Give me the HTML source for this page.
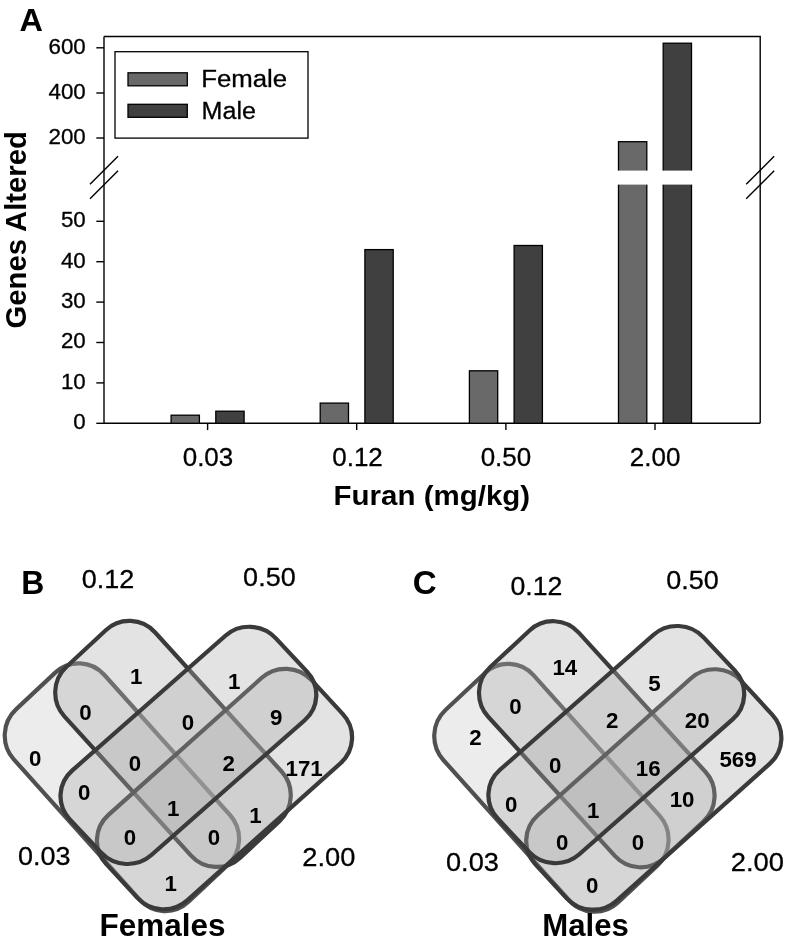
<!DOCTYPE html>
<html><head><meta charset="utf-8"><title>Figure</title>
<style>html,body{margin:0;padding:0;background:#fff}svg{display:block}text{font-family:"Liberation Sans",sans-serif;fill:#000}text.r{stroke:#000;stroke-width:0.3px}</style>
</head><body>
<svg width="786" height="948" viewBox="0 0 786 948">
<rect width="786" height="948" fill="#fff"/>
<g stroke="#000" stroke-width="1.4" fill="none">
<path d="M104.0 36.5 H760.2 V423.3"/>
<path d="M104.0 36.5 V423.3 H760.2"/>
<path d="M96.3 47.8 H104.0"/>
<path d="M96.3 93.0 H104.0"/>
<path d="M96.3 138.0 H104.0"/>
<path d="M96.3 221.3 H104.0"/>
<path d="M96.3 261.7 H104.0"/>
<path d="M96.3 302.1 H104.0"/>
<path d="M96.3 342.5 H104.0"/>
<path d="M96.3 382.9 H104.0"/>
<path d="M96.3 423.3 H104.0"/>
<path d="M207.6 423.3 V430.1"/>
<path d="M356.7 423.3 V430.1"/>
<path d="M505.9 423.3 V430.1"/>
<path d="M655.0 423.3 V430.1"/>
<path d="M90.0 184.2 L118.0 156.2"/>
<path d="M90.0 198.8 L118.0 170.8"/>
<path d="M746.2 184.2 L774.2 156.2"/>
<path d="M746.2 198.8 L774.2 170.8"/>
</g>
<g stroke="#000" stroke-width="1.3">
<rect x="171.1" y="415.2" width="28.3" height="8.1" fill="#696969"/>
<rect x="215.8" y="411.2" width="28.3" height="12.1" fill="#404040"/>
<rect x="320.2" y="403.1" width="28.3" height="20.2" fill="#696969"/>
<rect x="364.9" y="249.6" width="28.3" height="173.7" fill="#404040"/>
<rect x="469.4" y="370.8" width="28.3" height="52.5" fill="#696969"/>
<rect x="514.1" y="245.5" width="28.3" height="177.8" fill="#404040"/>
<rect x="618.5" y="141.7" width="28.3" height="281.6" fill="#696969"/>
<rect x="663.2" y="43.2" width="28.3" height="380.1" fill="#404040"/>
</g>
<rect x="616.5" y="170.6" width="77.0" height="14" fill="#fff"/>
<rect x="115" y="51.7" width="193" height="86.4" fill="#fff" stroke="#000" stroke-width="1.3"/>
<rect x="128" y="72.8" width="59.3" height="13" fill="#696969" stroke="#000" stroke-width="1.3"/>
<rect x="128" y="104.3" width="59.3" height="13" fill="#404040" stroke="#000" stroke-width="1.3"/>
<text transform="translate(201.14 87.40) scale(1.0469 1)" font-size="24.64px" class="r">Female</text>
<text transform="translate(201.59 118.70) scale(1.0187 1)" font-size="24.64px" class="r">Male</text>
<text transform="translate(48.48 53.60) scale(1.0300 1)" font-size="21.70px" class="r">600</text>
<text transform="translate(48.48 98.80) scale(1.0300 1)" font-size="21.70px" class="r">400</text>
<text transform="translate(48.48 143.80) scale(1.0300 1)" font-size="21.70px" class="r">200</text>
<text transform="translate(60.88 227.10) scale(1.0300 1)" font-size="21.70px" class="r">50</text>
<text transform="translate(60.88 267.50) scale(1.0300 1)" font-size="21.70px" class="r">40</text>
<text transform="translate(60.88 307.90) scale(1.0300 1)" font-size="21.70px" class="r">30</text>
<text transform="translate(60.88 348.30) scale(1.0300 1)" font-size="21.70px" class="r">20</text>
<text transform="translate(60.88 388.70) scale(1.0300 1)" font-size="21.70px" class="r">10</text>
<text transform="translate(73.29 429.10) scale(1.0300 1)" font-size="21.70px" class="r">0</text>
<text transform="translate(182.67 466.20) scale(1.0200 1)" font-size="25.50px" class="r">0.03</text>
<text transform="translate(332.19 466.20) scale(1.0200 1)" font-size="25.50px" class="r">0.12</text>
<text transform="translate(480.66 466.20) scale(1.0200 1)" font-size="25.50px" class="r">0.50</text>
<text transform="translate(629.78 466.20) scale(1.0200 1)" font-size="25.50px" class="r">2.00</text>
<text transform="translate(333.58 505.40) scale(1.0440 1)" font-size="28.26px" font-weight="bold">Furan (mg/kg)</text>
<text transform="translate(25.5 328.57) rotate(-90) scale(0.9624 1)" font-size="30.43px" font-weight="bold">Genes Altered</text>
<text transform="translate(19.59 30.50) scale(1.0251 1)" font-size="31.59px" font-weight="bold">A</text>
<g>
<rect x="-129.20" y="-61.88" width="258.40" height="123.75" rx="35.0" ry="35.0" transform="translate(121.90 787.20) rotate(48.10) skewX(1.20)" fill="#acacac" fill-opacity="0.230" stroke="#505050" stroke-width="4.20"/>
<rect x="-129.10" y="-61.80" width="258.20" height="123.60" rx="35.0" ry="35.0" transform="translate(173.00 743.95) rotate(47.70) skewX(0.60)" fill="#acacac" fill-opacity="0.340" stroke="#3a3a3a" stroke-width="4.20"/>
<rect x="-137.80" y="-58.10" width="275.60" height="116.20" rx="35.0" ry="35.0" transform="translate(224.50 789.05) rotate(-41.80) skewX(0.90)" fill="#acacac" fill-opacity="0.340" stroke="#3a3a3a" stroke-width="4.20"/>
<rect x="-137.10" y="-57.90" width="274.20" height="115.80" rx="35.0" ry="35.0" transform="translate(188.40 745.40) rotate(-41.35) skewX(1.85)" fill="#acacac" fill-opacity="0.340" stroke="#3a3a3a" stroke-width="4.20"/>
<text transform="translate(29.11 766.30) scale(1.0000 1)" font-size="22.30px" font-weight="bold">0</text>
<text transform="translate(130.02 684.20) scale(1.0000 1)" font-size="22.30px" font-weight="bold">1</text>
<text transform="translate(79.21 719.60) scale(1.0000 1)" font-size="22.30px" font-weight="bold">0</text>
<text transform="translate(227.97 689.20) scale(1.0000 1)" font-size="22.30px" font-weight="bold">1</text>
<text transform="translate(181.86 729.60) scale(1.0000 1)" font-size="22.30px" font-weight="bold">0</text>
<text transform="translate(270.11 724.70) scale(1.0000 1)" font-size="22.30px" font-weight="bold">9</text>
<text transform="translate(128.66 771.30) scale(1.0000 1)" font-size="22.30px" font-weight="bold">0</text>
<text transform="translate(222.62 770.80) scale(1.0000 1)" font-size="22.30px" font-weight="bold">2</text>
<text transform="translate(285.49 775.80) scale(1.0000 1)" font-size="22.30px" font-weight="bold">171</text>
<text transform="translate(77.96 800.30) scale(1.0000 1)" font-size="22.30px" font-weight="bold">0</text>
<text transform="translate(167.12 815.80) scale(1.0000 1)" font-size="22.30px" font-weight="bold">1</text>
<text transform="translate(249.17 822.80) scale(1.0000 1)" font-size="22.30px" font-weight="bold">1</text>
<text transform="translate(123.71 845.00) scale(1.0000 1)" font-size="22.30px" font-weight="bold">0</text>
<text transform="translate(207.66 845.00) scale(1.0000 1)" font-size="22.30px" font-weight="bold">0</text>
<text transform="translate(164.62 891.30) scale(1.0000 1)" font-size="22.30px" font-weight="bold">1</text>
<text transform="translate(81.82 587.90) scale(1.0782 1)" font-size="25.00px" class="r">0.12</text>
<text transform="translate(243.12 586.30) scale(1.0281 1)" font-size="26.29px" class="r">0.50</text>
<text transform="translate(18.02 865.40) scale(1.0324 1)" font-size="26.14px" class="r">0.03</text>
<text transform="translate(302.34 865.80) scale(1.0377 1)" font-size="26.29px" class="r">2.00</text>
</g>
<g>
<rect x="-129.20" y="-61.88" width="258.40" height="123.75" rx="35.0" ry="35.0" transform="translate(551.40 787.80) rotate(48.10) skewX(1.20)" fill="#acacac" fill-opacity="0.230" stroke="#505050" stroke-width="4.20"/>
<rect x="-129.10" y="-61.80" width="258.20" height="123.60" rx="35.0" ry="35.0" transform="translate(596.80 744.25) rotate(47.70) skewX(0.60)" fill="#acacac" fill-opacity="0.340" stroke="#3a3a3a" stroke-width="4.20"/>
<rect x="-137.80" y="-58.10" width="275.60" height="116.20" rx="35.0" ry="35.0" transform="translate(653.80 789.45) rotate(-41.80) skewX(0.90)" fill="#acacac" fill-opacity="0.340" stroke="#3a3a3a" stroke-width="4.20"/>
<rect x="-137.10" y="-57.90" width="274.20" height="115.80" rx="35.0" ry="35.0" transform="translate(616.30 744.60) rotate(-41.35) skewX(1.85)" fill="#acacac" fill-opacity="0.340" stroke="#3a3a3a" stroke-width="4.20"/>
<text transform="translate(469.27 745.00) scale(1.0000 1)" font-size="22.30px" font-weight="bold">2</text>
<text transform="translate(552.45 675.00) scale(1.0000 1)" font-size="22.30px" font-weight="bold">14</text>
<text transform="translate(509.36 713.50) scale(1.0000 1)" font-size="22.30px" font-weight="bold">0</text>
<text transform="translate(648.16 690.80) scale(1.0000 1)" font-size="22.30px" font-weight="bold">5</text>
<text transform="translate(605.97 728.00) scale(1.0000 1)" font-size="22.30px" font-weight="bold">2</text>
<text transform="translate(684.83 728.30) scale(1.0000 1)" font-size="22.30px" font-weight="bold">20</text>
<text transform="translate(548.91 772.50) scale(1.0000 1)" font-size="22.30px" font-weight="bold">0</text>
<text transform="translate(635.74 775.50) scale(1.0000 1)" font-size="22.30px" font-weight="bold">16</text>
<text transform="translate(719.44 766.50) scale(1.0000 1)" font-size="22.30px" font-weight="bold">569</text>
<text transform="translate(505.06 811.70) scale(1.0000 1)" font-size="22.30px" font-weight="bold">0</text>
<text transform="translate(586.97 817.50) scale(1.0000 1)" font-size="22.30px" font-weight="bold">1</text>
<text transform="translate(669.64 806.70) scale(1.0000 1)" font-size="22.30px" font-weight="bold">10</text>
<text transform="translate(555.91 850.00) scale(1.0000 1)" font-size="22.30px" font-weight="bold">0</text>
<text transform="translate(631.86 850.40) scale(1.0000 1)" font-size="22.30px" font-weight="bold">0</text>
<text transform="translate(585.91 892.50) scale(1.0000 1)" font-size="22.30px" font-weight="bold">0</text>
<text transform="translate(510.53 594.50) scale(1.0494 1)" font-size="25.43px" class="r">0.12</text>
<text transform="translate(666.22 589.00) scale(1.0261 1)" font-size="26.29px" class="r">0.50</text>
<text transform="translate(446.01 870.80) scale(1.0443 1)" font-size="26.00px" class="r">0.03</text>
<text transform="translate(730.73 870.90) scale(1.0475 1)" font-size="26.14px" class="r">2.00</text>
</g>
<text transform="translate(21.32 593.90) scale(0.9507 1)" font-size="33.62px" font-weight="bold">B</text>
<text transform="translate(412.87 594.00) scale(0.9827 1)" font-size="33.71px" font-weight="bold">C</text>
<text transform="translate(99.45 936.00) scale(0.9827 1)" font-size="32.03px" font-weight="bold">Females</text>
<text transform="translate(542.28 936.00) scale(0.9723 1)" font-size="32.03px" font-weight="bold">Males</text>
</svg>
</body></html>
